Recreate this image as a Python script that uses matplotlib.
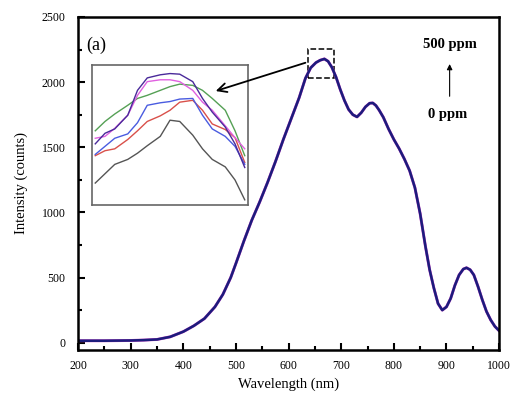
import numpy as np
import matplotlib
matplotlib.use("Agg")
import matplotlib.pyplot as plt
from matplotlib.patches import Rectangle

plt.rcParams["font.family"] = ["Liberation Serif", "DejaVu Serif"]

# main spectrum (all concentrations overlap)
wavelength = [200, 250, 300, 325, 350, 375, 400, 420, 440, 460, 475, 490, 500,
              515, 530, 545, 560, 575, 590, 605, 620, 632, 642, 652, 660, 668,
              675, 682, 690, 698, 706, 714, 722, 730, 738, 746, 754, 760, 766,
              772, 780, 790, 800, 810, 820, 830, 840, 850, 860, 868, 876, 884,
              892, 900, 908, 916, 924, 932, 938, 945, 952, 960, 968, 976, 984,
              992, 1000]
intensity = [15, 15, 17, 20, 25, 45, 85, 130, 185, 275, 370, 500, 610,
             780, 940, 1080, 1230, 1390, 1560, 1720, 1880, 2030, 2110, 2150,
             2168, 2178, 2160, 2115, 2040, 1945, 1860, 1790, 1750, 1733, 1765,
             1810, 1838, 1840, 1820, 1785, 1730, 1640, 1560, 1490, 1410, 1320,
             1190, 990, 740, 560, 420, 300, 250, 275, 340, 440, 520, 565, 575,
             560, 520, 430, 330, 240, 175, 125, 92]

# zoomed peak region, one curve per concentration
inset_wl = [638, 641, 644, 648, 651, 654, 658, 661, 664, 668, 671, 674, 678, 681, 684]
inset_gray = [2065, 2080, 2095, 2103, 2113, 2125, 2140, 2166, 2164, 2142, 2120, 2103, 2091, 2070, 2038]
inset_red = [2109, 2117, 2120, 2135, 2149, 2164, 2173, 2182, 2195, 2198, 2182, 2160, 2151, 2138, 2098]
inset_blue = [2111, 2124, 2137, 2144, 2162, 2190, 2194, 2196, 2200, 2201, 2174, 2152, 2140, 2124, 2095]
inset_green = [2149, 2164, 2176, 2190, 2201, 2206, 2214, 2220, 2224, 2222, 2214, 2201, 2182, 2149, 2109]
inset_magenta = [2137, 2140, 2153, 2174, 2206, 2228, 2231, 2231, 2228, 2214, 2195, 2182, 2157, 2138, 2120]
inset_purple = [2128, 2145, 2152, 2174, 2214, 2234, 2239, 2241, 2240, 2228, 2201, 2179, 2155, 2128, 2090]

inset_series = [
    (inset_gray, "#555555"),
    (inset_red, "#d9504a"),
    (inset_blue, "#4a5ce0"),
    (inset_green, "#55a055"),
    (inset_magenta, "#e060e0"),
    (inset_purple, "#4a2a9a"),
]

fig = plt.figure(figsize=(5.14, 4.04), dpi=100)
ax = fig.add_axes([0.152, 0.134, 0.819, 0.824])

ax.plot(wavelength, intensity, color="#c040c0", lw=2.1)
ax.plot(wavelength, intensity, color="#1c1c7c", lw=1.8)

ax.set_xlim(200, 1000)
ax.set_ylim(-55, 2500)
ax.set_xticks(np.arange(200, 1001, 100))
ax.set_xticks(np.arange(250, 1000, 100), minor=True)
ax.set_yticks(np.arange(0, 2501, 500))
ax.set_yticks(np.arange(250, 2500, 500), minor=True)
ax.tick_params(which="both", direction="in", width=1.5, labelsize=8.5)
ax.tick_params(which="major", length=5)
ax.tick_params(which="minor", length=3)
ax.tick_params(axis="y", pad=9)
ax.tick_params(axis="x", pad=7)
for s in ax.spines.values():
    s.set_linewidth(1.8)

ax.set_xlabel("Wavelength (nm)", fontsize=10.5, labelpad=4)
ax.set_ylabel("Intensity (counts)", fontsize=10.5, labelpad=10)

ax.text(215, 2285, "(a)", fontsize=13, va="center")
ax.text(906, 2285, "500 ppm", fontsize=10.5, fontweight="bold", ha="center", va="center")
ax.text(903, 1748, "0 ppm", fontsize=10.5, fontweight="bold", ha="center", va="center")
ax.annotate("", xy=(906, 2160), xytext=(906, 1870),
            arrowprops=dict(arrowstyle="-|>", color="black", lw=0.8, mutation_scale=8))

ax.add_patch(Rectangle((637, 2030), 49, 225, fill=False, ls="--", lw=1.1, ec="black"))

ins = fig.add_axes([0.179, 0.493, 0.3035, 0.3465])
for vals, col in inset_series:
    ins.plot(inset_wl, vals, color=col, lw=1.0)
ins.set_xlim(637, 685)
ins.set_ylim(2030, 2255)
ins.set_xticks([])
ins.set_yticks([])
for s in ins.spines.values():
    s.set_color("#666666")
    s.set_linewidth(1.2)

# arrow from the dashed box into the inset, drawn on top of the inset
ins.annotate("", xy=(0.776, 0.807), xycoords="axes fraction",
             xytext=(637, 2155), textcoords=ax.transData,
             arrowprops=dict(arrowstyle="->", color="black", lw=1.3, mutation_scale=16),
             annotation_clip=False)

fig.savefig("out.png", dpi=100)
